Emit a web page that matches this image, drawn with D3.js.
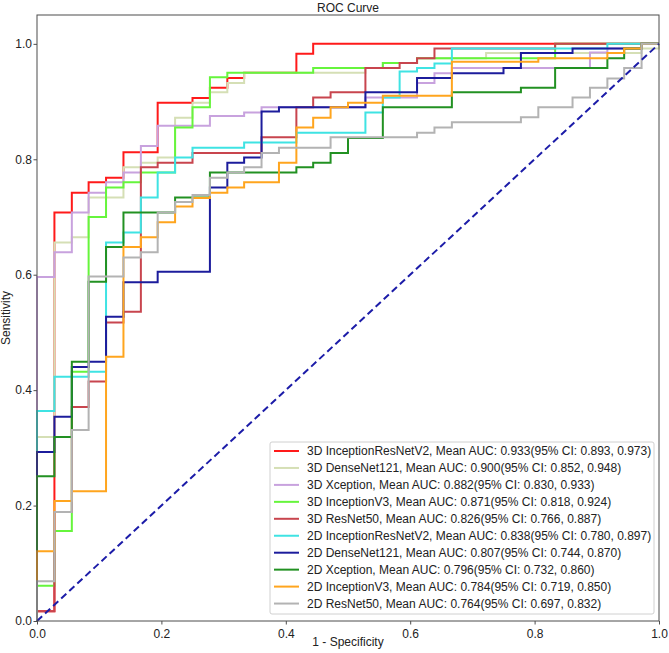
<!DOCTYPE html>
<meta charset="utf-8">
<style>
body {
  margin: 0;
  background: #fff;
}
svg {
  display: block;
  font-family: "Liberation Sans", Arial, sans-serif;
}
.axis text {
  font-size: 12px;
  fill: #222;
}
.axis line, .axis path {
  stroke: #4d4d4d;
}
.curves path {
  fill: none;
  stroke-width: 2;
}
.legend text {
  font-size: 12px;
  fill: #222;
}
</style>
<svg width="669" height="653"></svg>
<script src="https://cdnjs.cloudflare.com/ajax/libs/d3/7.8.5/d3.min.js"></script>
<script>

// false positive rate grid (x of each step)
var fpr = [0.000, 0.028, 0.056, 0.083, 0.111, 0.139, 0.167, 0.194, 0.222, 0.250,
  0.278, 0.306, 0.333, 0.361, 0.389, 0.417, 0.444, 0.472, 0.500, 0.528, 0.556,
  0.583, 0.611, 0.639, 0.667, 0.694, 0.722, 0.750, 0.778, 0.806, 0.833, 0.861,
  0.889, 0.917, 0.944, 0.972, 1.000];

// mean sensitivity at each fpr step, one list per model
var tpr3dIncResV2 = [0.017, 0.708, 0.742, 0.760, 0.768, 0.812, 0.812, 0.898, 0.898, 0.906,
  0.924, 0.941, 0.950, 0.950, 0.950, 0.983, 1.000, 1.000, 1.000, 1.000, 1.000,
  1.000, 1.000, 1.000, 1.000, 1.000, 1.000, 1.000, 1.000, 1.000, 1.000, 1.000,
  1.000, 1.000, 1.000, 1.000, 1.000];
var tpr3dDense121 = [0.319, 0.656, 0.665, 0.734, 0.734, 0.786, 0.794, 0.803, 0.872, 0.898,
  0.916, 0.932, 0.950, 0.950, 0.950, 0.950, 0.950, 0.950, 0.950, 0.958, 0.967,
  0.967, 0.975, 0.975, 0.975, 0.975, 0.984, 0.984, 0.984, 0.984, 0.984, 0.984,
  0.984, 0.984, 0.984, 0.992, 1.000];
var tpr3dXception = [0.596, 0.639, 0.708, 0.742, 0.760, 0.777, 0.823, 0.858, 0.858, 0.858,
  0.875, 0.875, 0.881, 0.890, 0.890, 0.890, 0.890, 0.890, 0.890, 0.907, 0.907,
  0.907, 0.932, 0.949, 0.958, 0.958, 0.958, 0.958, 0.958, 0.958, 0.958, 0.958,
  0.985, 0.992, 0.992, 1.000, 1.000];
var tpr3dIncV3 = [0.061, 0.156, 0.432, 0.700, 0.751, 0.760, 0.777, 0.777, 0.855, 0.890,
  0.942, 0.950, 0.950, 0.950, 0.950, 0.950, 0.958, 0.958, 0.958, 0.958, 0.967,
  0.967, 0.975, 0.975, 0.975, 0.975, 0.975, 0.975, 0.975, 0.975, 1.000, 1.000,
  1.000, 1.000, 1.000, 1.000, 1.000];
var tpr3dRes50 = [0.017, 0.189, 0.371, 0.415, 0.517, 0.536, 0.786, 0.794, 0.794, 0.811,
  0.811, 0.811, 0.811, 0.838, 0.838, 0.890, 0.907, 0.916, 0.916, 0.958, 0.958,
  0.967, 0.975, 0.992, 0.992, 0.992, 0.992, 0.992, 0.992, 0.992, 1.000, 1.000,
  1.000, 1.000, 1.000, 1.000, 1.000];
var tpr2dIncResV2 = [0.364, 0.423, 0.423, 0.432, 0.656, 0.673, 0.734, 0.777, 0.803, 0.820,
  0.820, 0.820, 0.829, 0.829, 0.829, 0.846, 0.846, 0.846, 0.846, 0.881, 0.907,
  0.952, 0.958, 0.966, 0.992, 0.992, 0.992, 0.992, 0.992, 0.992, 0.992, 0.992,
  0.992, 1.000, 1.000, 1.000, 1.000];
var tpr2dDense121 = [0.293, 0.354, 0.440, 0.449, 0.527, 0.587, 0.587, 0.605, 0.605, 0.605,
  0.751, 0.794, 0.803, 0.883, 0.890, 0.890, 0.890, 0.890, 0.890, 0.916, 0.916,
  0.916, 0.941, 0.941, 0.949, 0.949, 0.949, 0.958, 0.984, 0.984, 0.984, 0.992,
  0.992, 0.992, 0.992, 1.000, 1.000];
var tpr2dXception = [0.251, 0.319, 0.449, 0.588, 0.648, 0.708, 0.708, 0.708, 0.734, 0.734,
  0.777, 0.777, 0.777, 0.777, 0.777, 0.786, 0.794, 0.811, 0.837, 0.837, 0.890,
  0.890, 0.890, 0.890, 0.916, 0.916, 0.916, 0.916, 0.924, 0.924, 0.958, 0.958,
  0.958, 0.975, 0.992, 1.000, 1.000];
var tpr2dIncV3 = [0.121, 0.208, 0.225, 0.225, 0.458, 0.648, 0.665, 0.691, 0.718, 0.733,
  0.742, 0.751, 0.760, 0.760, 0.794, 0.855, 0.872, 0.890, 0.898, 0.898, 0.910,
  0.910, 0.910, 0.910, 0.969, 0.969, 0.969, 0.969, 0.969, 0.975, 0.975, 0.975,
  0.975, 0.984, 0.992, 1.000, 1.000];
var tpr2dRes50 = [0.069, 0.189, 0.331, 0.597, 0.597, 0.630, 0.639, 0.708, 0.726, 0.738,
  0.768, 0.777, 0.786, 0.811, 0.820, 0.820, 0.820, 0.838, 0.838, 0.838, 0.838,
  0.838, 0.846, 0.855, 0.864, 0.864, 0.864, 0.864, 0.873, 0.890, 0.890, 0.907,
  0.924, 0.940, 0.958, 1.000, 1.000];

var modelNames = ["3D InceptionResNetV2", "3D DenseNet121", "3D Xception", "3D InceptionV3",
  "3D ResNet50", "2D InceptionResNetV2", "2D DenseNet121", "2D Xception",
  "2D InceptionV3", "2D ResNet50"];
var meanAuc = ["0.933", "0.900", "0.882", "0.871", "0.826", "0.838", "0.807", "0.796", "0.784", "0.764"];
var ciLow = ["0.893", "0.852", "0.830", "0.818", "0.766", "0.780", "0.744", "0.732", "0.719", "0.697"];
var ciHigh = ["0.973", "0.948", "0.933", "0.924", "0.887", "0.897", "0.870", "0.860", "0.850", "0.832"];
var colors = ["#ff1a1a", "#d5dfb5", "#c8a2de", "#66f53c", "#c8454e",
  "#3fe3e3", "#1c1c9c", "#229122", "#ffa51e", "#b3b3b3"];
var tprLists = [tpr3dIncResV2, tpr3dDense121, tpr3dXception, tpr3dIncV3, tpr3dRes50,
  tpr2dIncResV2, tpr2dDense121, tpr2dXception, tpr2dIncV3, tpr2dRes50];

var tickValues = [0, 0.2, 0.4, 0.6, 0.8, 1.0];

var svg = d3.select("svg");

var x = d3.scaleLinear().domain([0, 1]).range([37, 659]);
var y = d3.scaleLinear().domain([0, 1.05]).range([621, 15]);

var models = modelNames.map(function (name, i) {
  var pts = [[0, 0]];
  tprLists[i].forEach(function (v, j) { pts.push([fpr[j], v]); });
  return {
    label: name + ", Mean AUC: " + meanAuc[i] + "(95% CI: " + ciLow[i] + ", " + ciHigh[i] + ")",
    color: colors[i],
    points: pts
  };
});

var line = d3.line()
    .x(function (d) { return x(d[0]); })
    .y(function (d) { return y(d[1]); })
    .curve(d3.curveStepAfter);

svg.append("g")
    .attr("class", "curves")
  .selectAll("path")
  .data(models)
  .enter().append("path")
    .attr("stroke", function (d) { return d.color; })
    .attr("d", function (d) { return line(d.points); });

// chance line
svg.append("path")
    .attr("d", line.curve(d3.curveLinear)([[0, 0], [1, 1]]))
    .attr("fill", "none")
    .attr("stroke", "#1c1ca8")
    .attr("stroke-width", 2)
    .attr("stroke-dasharray", "7,4");

// axes
var xAxis = svg.append("g")
    .attr("class", "axis")
    .attr("transform", "translate(0,621)")
    .call(d3.axisBottom(x).tickValues(tickValues).tickFormat(d3.format(".1f")).tickSize(3.5).tickSizeOuter(0));
xAxis.selectAll("text").attr("dy", "0.85em");

var yAxis = svg.append("g")
    .attr("class", "axis")
    .attr("transform", "translate(37,0)")
    .call(d3.axisLeft(y).tickValues(tickValues).tickFormat(d3.format(".1f")).tickSize(3.5).tickSizeOuter(0));
yAxis.selectAll("text").attr("x", -5);

svg.selectAll(".axis .domain").remove();

svg.append("rect")
    .attr("x", 37)
    .attr("y", 15)
    .attr("width", 622)
    .attr("height", 606)
    .attr("fill", "none")
    .attr("stroke", "#4d4d4d")
    .attr("stroke-width", 1);

svg.append("text")
    .attr("x", 348)
    .attr("y", 12)
    .attr("text-anchor", "middle")
    .style("font-size", "12px")
    .style("fill", "#222")
    .text("ROC Curve");

svg.append("text")
    .attr("x", 348)
    .attr("y", 646)
    .attr("text-anchor", "middle")
    .style("font-size", "12px")
    .style("fill", "#222")
    .text("1 - Specificity");

svg.append("text")
    .attr("transform", "translate(10,318) rotate(-90)")
    .attr("text-anchor", "middle")
    .style("font-size", "12px")
    .style("fill", "#222")
    .text("Sensitivity");

// legend, lower right
var legend = svg.append("g")
    .attr("class", "legend")
    .attr("transform", "translate(270,442)");

legend.append("rect")
    .attr("width", 384)
    .attr("height", 172)
    .attr("rx", 2)
    .attr("fill", "#fff")
    .attr("fill-opacity", 0.85)
    .attr("stroke", "#d0d0d0");

var rows = legend.selectAll("g.row")
    .data(models)
  .enter().append("g")
    .attr("class", "row")
    .attr("transform", function (d, i) { return "translate(0," + (9 + i * 16.95) + ")"; });

rows.append("line")
    .attr("x1", 4)
    .attr("x2", 29)
    .attr("stroke", function (d) { return d.color; })
    .attr("stroke-width", 2);

rows.append("text")
    .attr("x", 37)
    .attr("dy", "0.35em")
    .text(function (d) { return d.label; });

</script>
